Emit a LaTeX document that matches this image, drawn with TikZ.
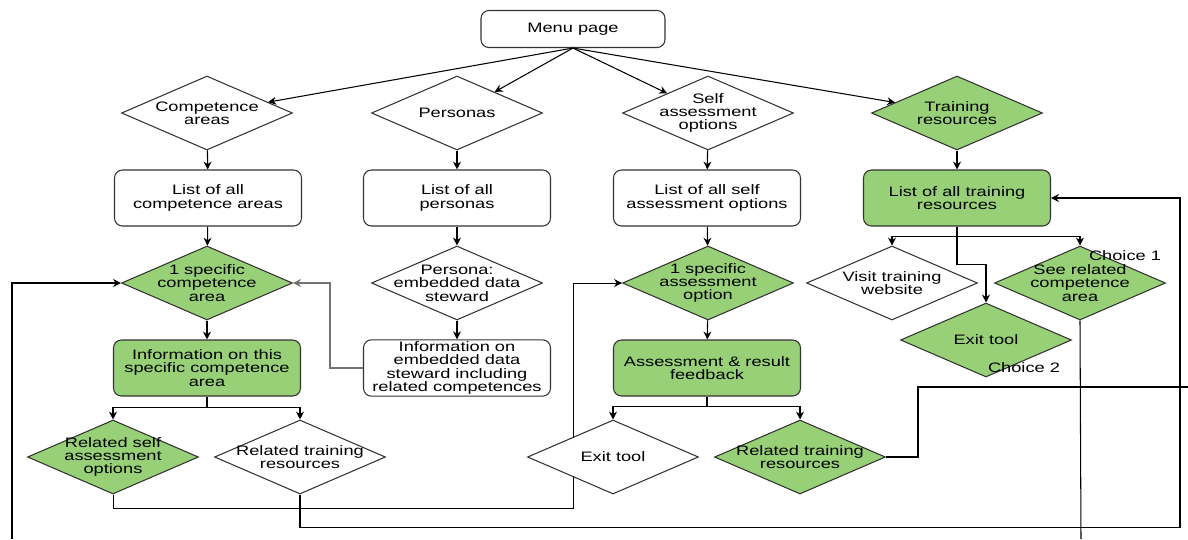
\documentclass[tikz,border=0pt]{standalone}
\usepackage{fontspec}
\setmainfont{Liberation Sans}[FakeStretch=1.33]
\usetikzlibrary{shapes.geometric,arrows.meta,backgrounds}
\definecolor{leafgreen}{HTML}{97D077}
\begin{document}
\begin{tikzpicture}[x=0.02cm,y=-0.02cm,
  font=\fontsize{7.8}{7.6}\selectfont,line width=0.6pt,
  box/.style={draw=black!80,fill=white,rounded corners=4.5pt,minimum width=3.74cm,minimum height=1.12cm,inner sep=1pt,align=center},
  gbox/.style={box,fill=leafgreen},
  dia/.style={draw=black!80,fill=white,diamond,aspect=2.31,minimum width=3.42cm,minimum height=1.48cm,inner sep=-4pt,align=center},
  gdia/.style={dia,fill=leafgreen},
  arr/.style={-{Stealth[length=4.5pt,width=4.5pt]}}]
\useasboundingbox (0,0) rectangle (1188,539);
\node[box,minimum width=3.68cm,minimum height=0.74cm] (menu) at (573,29) {Menu page};
\node[dia] (comp) at (207,113) {Competence\\areas};
\node[dia] (pers) at (457,113) {Personas};
\node[dia] (self) at (708,113) {Self\\assessment\\options};
\node[gdia] (train) at (957,113) {Training\\resources};
\node[box] (complist) at (208,198) {List of all\\competence areas};
\node[box] (perslist) at (457,198) {List of all\\personas};
\node[box] (selflist) at (707,198) {List of all self\\assessment options};
\node[gbox] (trainlist) at (957,198) {List of all training\\resources};
\node[gdia] (onecomp) at (207,283) {1 specific\\competence\\area};
\node[dia] (steward) at (457,283) {Persona:\\embedded data\\steward};
\node[gdia] (oneassess) at (708,283) {1 specific\\assessment\\option};
\node[dia] (visit) at (892,283) {Visit training\\website};
\node[gdia] (seerel) at (1080,283) {See related\\competence\\area};
\node[gdia] (exittwo) at (986,340) {Exit tool};
\node[gbox] (compinfo) at (207,368) {Information on this\\specific competence\\area};
\node[box] (stewinfo) at (457,368) {Information on\\embedded data\\steward including\\related competences};
\node[gbox] (assessres) at (707,368) {Assessment \& result\\feedback};
\node[gdia] (relself) at (113,457) {Related self\\assessment\\options};
\node[dia] (reltrain) at (300,457) {Related training\\resources};
\node[dia] (exitone) at (613,457) {Exit tool};
\node[gdia] (reltraintwo) at (800,457) {Related training\\resources};
\node (choiceone) at (1125,256) {Choice 1};
\node (choicetwo) at (1024,368) {Choice 2};
\coordinate (cutleft) at (12,539);
\coordinate (cutmid) at (1081,539);
\coordinate (cutright) at (1188,387);

\draw[arr] (menu.south) -- (comp);
\draw[arr] (menu.south) -- (pers);
\draw[arr] (menu.south) -- (self);
\draw[arr] (menu.south) -- (train);
\draw[arr] (comp) -- (complist);
\draw[arr] (pers) -- (perslist);
\draw[arr] (self) -- (selflist);
\draw[arr] (train) -- (trainlist);
\draw[arr] (complist) -- (onecomp);
\draw[arr] (perslist) -- (steward);
\draw[arr] (selflist) -- (oneassess);
\draw[arr] (onecomp) -- (compinfo);
\draw[arr] (steward) -- (stewinfo);
\draw[arr] (oneassess) -- (assessres);
\draw[arr] (compinfo.south) -- ++(0,11) -| (relself);
\draw[arr] (compinfo.south) -- ++(0,11) -| (reltrain);
\draw[arr] (assessres.south) -- ++(0,10) -| (exitone);
\draw[arr] (assessres.south) -- ++(0,10) -| (reltraintwo);
\draw[arr,black!55,line width=0.8pt] (stewinfo.west) -- ++(-33,0) |- (onecomp.east);
\draw[arr] (trainlist.south) -- ++(0,10) -| (visit);
\draw[arr] (trainlist.south) -- ++(0,10) -| (seerel);
\draw[arr] (trainlist.south) -- ++(0,38) -| (exittwo);
\draw[arr] (cutleft) |- (onecomp.west);
\draw (seerel.south) -- (cutmid);
\draw (reltraintwo.east) -- ++(32,0) |- (cutright);
\draw[arr] (reltrain.south) -- ++(0,33) -- ++(880,0) |- (trainlist.east);
\begin{scope}[on background layer]
\draw[arr] (relself.south) -- ++(0,14) -- ++(460,0) |- (oneassess.west);
\end{scope}
\end{tikzpicture}
\end{document}
